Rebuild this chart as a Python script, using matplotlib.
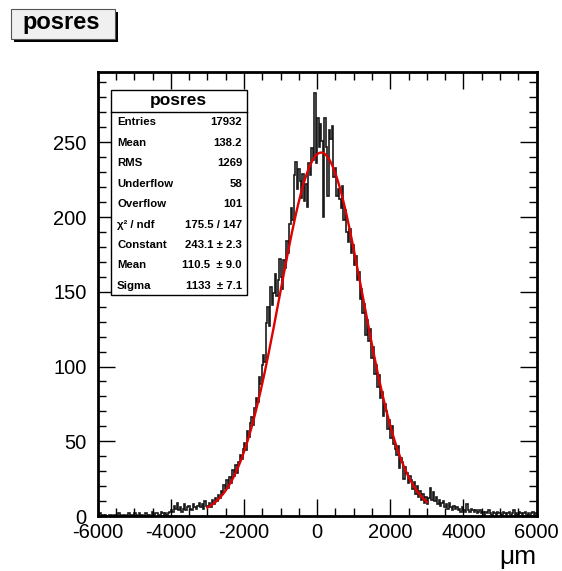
import numpy as np
import matplotlib
matplotlib.use("Agg")
import matplotlib.pyplot as plt
from matplotlib.patches import Rectangle
from matplotlib.ticker import MultipleLocator

plt.rcParams['font.family'] = ['Liberation Sans', 'DejaVu Sans']
plt.rcParams['axes.unicode_minus'] = False

# histogram "posres": 300 bins of 40 um from -6000 to 6000
x_lo, x_hi, n_bins = -6000, 6000, 300

left_far = [1, 2, 0, 1, 0, 1, 0, 0, 1, 1,
            0, 1, 1, 0, 2, 1, 0, 1, 1, 0,
            1, 2, 0, 1, 1, 2, 1, 0, 2, 1,
            1, 0, 2, 2, 1, 1, 0, 3, 1, 2,
            2, 1, 1, 3, 2, 0, 2, 1, 2, 3]
left_near = [4, 3, 7, 5, 9, 4, 6, 3, 5, 8,
             4, 6, 7, 5, 4, 8, 6, 5, 7, 9,
             6, 8, 5, 10, 7]
left_flank = [7, 9, 6, 11, 8, 12, 10, 14, 12, 17,
              15, 21, 18, 24, 19, 26, 22, 31, 27, 34,
              29, 36, 41, 38, 45, 49, 44, 57, 53, 62,
              66, 61, 72, 79, 76, 93, 88, 101, 108, 103,
              129, 140, 127, 153, 141, 149, 162, 147, 158, 172]
core = [160, 152, 171, 166, 184, 176, 195, 206, 198, 228,
        237, 219, 232, 224, 213, 229, 211, 222, 207, 236,
        228, 246, 238, 283, 236, 266, 247, 262, 251, 200,
        266, 247, 214, 258, 252, 261, 227, 233, 214, 219,
        212, 206, 221, 198, 205, 190, 183, 192, 176, 181]
right_flank = [168, 174, 158, 163, 145, 152, 136, 142, 121, 131,
               117, 125, 106, 113, 95, 101, 86, 94, 79, 83,
               67, 75, 70, 58, 64, 52, 60, 48, 45, 41,
               47, 32, 39, 36, 25, 33, 29, 22, 27, 24,
               18, 23, 15, 20, 13, 17, 11, 15, 9, 13]
right_tail = [8, 12, 19, 11, 16, 10, 13, 8, 11, 7,
              9, 10, 6, 8, 5, 9, 6, 4, 7, 5,
              6, 4, 5, 3, 6, 4, 3, 8, 4, 3,
              5, 4, 3, 4, 2, 3, 4, 2, 3, 1,
              3, 2, 4, 2, 1, 3, 2, 1, 3, 2,
              2, 1, 3, 2, 1, 2, 3, 1, 2, 4,
              1, 2, 1, 3, 2, 1, 2, 3, 1, 2,
              1, 2, 3, 1, 2]

counts = np.array(left_far + left_near + left_flank + core + right_flank + right_tail)
edges = np.linspace(x_lo, x_hi, n_bins + 1)

# gaus fit shown in the stats box
fit_const, fit_mean, fit_sigma = 243.1, 110.5, 1133
fit_lo, fit_hi = -3000, 3000

stat_names = ["Entries", "Mean", "RMS", "Underflow", "Overflow",
              "\u03c7\u00b2 / ndf", "Constant", "Mean", "Sigma"]
stat_values = ["17932", "138.2", "1269", "58", "101",
               "175.5 / 147", "243.1 \u00b1 2.3", "110.5  \u00b1 9.0", "1133  \u00b1 7.1"]

W, H = 562, 571
fig = plt.figure(figsize=(W / 100, H / 100), dpi=100)


def fx(px):
    return px / W


def fy(py):
    return 1 - py / H


ax = fig.add_axes([fx(97.7), fy(516), fx(536.5) - fx(97.7), fy(72) - fy(516)])

ax.stairs(counts, edges, color='#1a1a1a', lw=1.2)
xf = np.linspace(fit_lo, fit_hi, 400)
ax.plot(xf, fit_const * np.exp(-0.5 * ((xf - fit_mean) / fit_sigma) ** 2),
        color='#e00000', lw=1.7)

ax.set_xlim(x_lo, x_hi)
ax.set_ylim(0, 297)
ax.set_xticks(np.arange(-6000, 6001, 2000))
ax.set_xticklabels([str(v) for v in range(-6000, 6001, 2000)])
ax.xaxis.set_minor_locator(MultipleLocator(500))
ax.set_yticks(np.arange(0, 251, 50))
ax.yaxis.set_minor_locator(MultipleLocator(10))
ax.tick_params(which='both', direction='in', top=True, right=True, width=1.0)
ax.tick_params(which='major', length=12, labelsize=14.5)
ax.tick_params(which='minor', length=6)
ax.tick_params(axis='x', pad=5)
ax.tick_params(axis='y', pad=8)
for s in ax.spines.values():
    s.set_linewidth(2.0)

fig.text(fx(536), fy(557), "\u03bcm", ha='right', va='center', fontsize=19)

# title box top left
fig.patches.append(Rectangle((fx(14), fy(42)), fx(104), fy(9) - fy(39),
                             transform=fig.transFigure, facecolor='black',
                             edgecolor='none', zorder=1))
fig.patches.append(Rectangle((fx(11), fy(39)), fx(104), fy(9) - fy(39),
                             transform=fig.transFigure, facecolor='#f0f0f0',
                             edgecolor='#555555', lw=0.8, zorder=2))
fig.text(fx(61), fy(23), "posres", ha='center', va='center',
         fontsize=17, fontweight='bold', zorder=3)

# stats box
box_l, box_r, box_t, box_b = 110.7, 246.7, 90, 295
fig.patches.append(Rectangle((fx(box_l), fy(box_b)), fx(box_r - box_l), fy(box_t) - fy(box_b),
                             transform=fig.transFigure, facecolor='white',
                             edgecolor='black', lw=1.0, zorder=5))
fig.add_artist(plt.Line2D([fx(box_l), fx(box_r)], [fy(111.7), fy(111.7)],
                          transform=fig.transFigure, color='black', lw=1.0, zorder=6))
fig.text(fx((box_l + box_r) / 2), fy(100), "posres", ha='center', va='center',
         fontsize=12.5, fontweight='bold', zorder=7)
for i, (name, val) in enumerate(zip(stat_names, stat_values)):
    yy = fy(122.5 + i * 20.4)
    fig.text(fx(117), yy, name, ha='left', va='center', fontsize=8.2,
             fontweight='bold', zorder=7)
    fig.text(fx(242), yy, val, ha='right', va='center', fontsize=8.2,
             fontweight='bold', zorder=7)

fig.savefig("out.png", dpi=100)
